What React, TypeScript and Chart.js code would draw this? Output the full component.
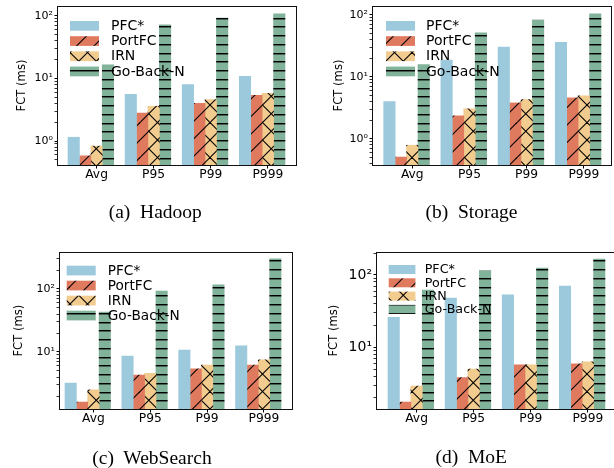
import React, { useEffect, useRef } from "react";
import { Chart, registerables } from "chart.js";

Chart.register(...registerables);

// ---------- data ----------
const categories = ["Avg", "P95", "P99", "P999"];
const seriesNames = ["PFC*", "PortFC", "IRN", "Go-Back-N"];

const hadoopPFC = [1.15, 5.6, 8.0, 10.8];
const hadoopPortFC = [0.58, 2.8, 4.0, 5.4];
const hadoopIRN = [0.83, 3.6, 4.6, 5.8];
const hadoopGBN = [16.5, 72, 92, 108];

const storagePFC = [4.0, 18.6, 30, 36];
const storagePortFC = [0.51, 2.35, 3.8, 4.6];
const storageIRN = [0.79, 3.05, 4.3, 4.95];
const storageGBN = [15.8, 51, 82, 103];

const webPFC = [3.2, 8.6, 10.7, 12.5];
const webPortFC = [1.6, 4.3, 5.4, 6.2];
const webIRN = [2.5, 4.6, 6.2, 7.5];
const webGBN = [43, 93, 116, 300];

const moePFC = [26, 48, 53, 70];
const moePortFC = [1.75, 3.8, 5.7, 5.9];
const moeIRN = [2.9, 5.0, 5.7, 6.3];
const moeGBN = [62, 114, 125, 166];

const yMajorValuesAB = [1, 10, 100];
const yMajorLabelsAB = ["10\u2070", "10\u00b9", "10\u00b2"];
const yMajorValuesCD = [10, 100];
const yMajorLabelsCD = ["10\u00b9", "10\u00b2"];

const yTitle = "FCT (ms)";

// ---------- styles ----------
const seriesColors = ["#9ccadc", "#e07a5f", "#f2cb8e", "#81b29a"];
const seriesHatch = ["none", "slash", "cross", "horiz"];

function makePattern(kind: string, color: string): any {
  if (kind === "none") return color;
  const size = 35;
  const c = document.createElement("canvas");
  c.width = size;
  c.height = size;
  const ctx = c.getContext("2d")!;
  ctx.fillStyle = color;
  ctx.fillRect(0, 0, size, size);
  ctx.strokeStyle = "#000";
  ctx.lineWidth = 1.1;
  if (kind === "slash" || kind === "cross") {
    for (let k = -1; k <= 5; k++) {
      const cc = k * 17.5;
      ctx.beginPath();
      ctx.moveTo(-5, cc + 5);
      ctx.lineTo(size + 5, cc - size - 5);
      ctx.stroke();
    }
  }
  if (kind === "cross") {
    for (let k = -3; k <= 3; k++) {
      const cc = k * 17.5;
      ctx.beginPath();
      ctx.moveTo(-5, -5 - cc);
      ctx.lineTo(size + 5, size + 5 - cc);
      ctx.stroke();
    }
  }
  if (kind === "horiz") {
    for (let k = 0; k < 4; k++) {
      const yy = Math.round(k * 8.75);
      ctx.fillStyle = "#000";
      ctx.fillRect(0, yy, size, 1);
      ctx.fillStyle = "rgba(0,0,0,0.45)";
      ctx.fillRect(0, yy + 1, size, 1);
    }
  }
  return ctx.createPattern(c, "repeat");
}

function minorTicks(min: number, max: number): number[] {
  const out: number[] = [];
  for (let e = -2; e <= 3; e++) {
    for (let m = 1; m <= 9; m++) {
      const v = m * Math.pow(10, e);
      if (v >= min && v <= max) out.push(Number(v.toPrecision(6)));
    }
  }
  return out;
}

const panels = [
  {
    key: "a",
    x: 0, y: 0, w: 307, h: 234,
    pad: { left: 0, top: 6, right: 11, bottom: 39 },
    yw: 58, xh: 30,
    xMin: -0.275, xMax: 3.893,
    yMin: 0.414, yMax: 144,
    series: [hadoopPFC, hadoopPortFC, hadoopIRN, hadoopGBN],
    majors: yMajorValuesAB, majorLabels: yMajorLabelsAB,
    yFont: 11, titlePad: 15,
    legend: { dx: 12, dy: 15, step: 15.2, font: 14, hw: 29, hh: 9.7, textDx: 41 },
    caption: "(a)  Hadoop", cx: 155.3, baseline: 218.3,
  },
  {
    key: "b",
    x: 307, y: 0, w: 307, h: 234,
    pad: { left: 0, top: 6, right: 3, bottom: 39 },
    yw: 66, xh: 30,
    xMin: -0.287, xMax: 3.875,
    yMin: 0.38, yMax: 138,
    series: [storagePFC, storagePortFC, storageIRN, storageGBN],
    majors: yMajorValuesAB, majorLabels: yMajorLabelsAB,
    yFont: 11, titlePad: 25,
    legend: { dx: 13, dy: 15, step: 15.2, font: 14, hw: 29, hh: 9.7, textDx: 40 },
    caption: "(b)  Storage", cx: 471.5, baseline: 217.8,
  },
  {
    key: "c",
    x: 0, y: 234, w: 307, h: 234,
    pad: { left: 0, top: 18.3, right: 15, bottom: 29 },
    yw: 60, xh: 30,
    xMin: -0.188, xMax: 3.893,
    yMin: 1.245, yMax: 382,
    series: [webPFC, webPortFC, webIRN, webGBN],
    majors: yMajorValuesCD, majorLabels: yMajorLabelsCD,
    yFont: 11, titlePad: 12,
    legend: { dx: 6.7, dy: 13.4, step: 15, font: 13.7, hw: 29, hh: 9.7, textDx: 41 },
    caption: "(c)  WebSearch", cx: 152, baseline: 463.8,
  },
  {
    key: "d",
    x: 307, y: 234, w: 313, h: 234,
    pad: { left: 0, top: 18.3, right: 4, bottom: 29 },
    yw: 70, xh: 30,
    xMin: -0.293, xMax: 3.893,
    yMin: 1.4, yMax: 206,
    series: [moePFC, moePortFC, moeIRN, moeGBN],
    majors: yMajorValuesCD, majorLabels: yMajorLabelsCD,
    yFont: 14, titlePad: 20.5,
    legend: { dx: 11.7, dy: 12.7, step: 13.3, font: 12.7, hw: 26.7, hh: 9, textDx: 36 },
    caption: "(d)  MoE", cx: 471.2, baseline: 462.8,
  },
];

const frameLegendPlugin = {
  id: "frameLegend",
  afterDraw(chart: any, _args: any, opts: any) {
    const { ctx, chartArea: a } = chart;
    ctx.save();
    ctx.strokeStyle = "#111";
    ctx.lineWidth = 1;
    const l = Math.round(a.left) - 0.5;
    const t = Math.round(a.top) + 0.5;
    const r = Math.round(a.right) + 0.5;
    const b = Math.round(a.bottom) + 0.5;
    ctx.strokeRect(l, t, r - l, b - t);
    chart.data.datasets.forEach((ds: any, i: number) => {
      const x = a.left + opts.dx;
      const y = a.top + opts.dy + i * opts.step;
      ctx.fillStyle = ds.backgroundColor;
      ctx.fillRect(x, y, opts.hw, opts.hh);
      ctx.fillStyle = "#000";
      ctx.font = `${opts.font}px "DejaVu Sans"`;
      ctx.textBaseline = "middle";
      ctx.textAlign = "left";
      ctx.fillText(ds.label, x + opts.textDx, y + opts.hh / 2 + 0.5);
    });
    ctx.restore();
  },
};

function Panel({ cfg }: { cfg: any }) {
  const ref = useRef<HTMLCanvasElement>(null);
  useEffect(() => {
    const datasets = cfg.series.map((vals: number[], k: number) => ({
      label: seriesNames[k],
      data: vals.map((v, i) => ({ x: i + k * 0.2, y: v })),
      backgroundColor: makePattern(seriesHatch[k], seriesColors[k]),
      borderWidth: 0,
      grouped: false,
      categoryPercentage: 1,
      barPercentage: 1,
    }));
    const allY = [...cfg.majors, ...minorTicks(cfg.yMin, cfg.yMax)]
      .filter((v, i, arr) => arr.indexOf(v) === i)
      .sort((p, q) => p - q);
    const chart = new Chart(ref.current!, {
      type: "bar",
      data: { datasets },
      plugins: [frameLegendPlugin],
      options: {
        animation: false,
        responsive: false,
        devicePixelRatio: 1,
        events: [],
        layout: { padding: cfg.pad, autoPadding: false },
        plugins: {
          legend: { display: false },
          tooltip: { enabled: false },
          frameLegend: cfg.legend,
        } as any,
        scales: {
          x: {
            type: "linear",
            offset: false,
            min: cfg.xMin,
            max: cfg.xMax,
            grid: { display: true, offset: false, drawOnChartArea: false, drawTicks: true, tickLength: 3.5, tickColor: "#000", tickWidth: 1 },
            border: { display: false },
            afterBuildTicks: (s: any) => {
              s.ticks = categories.map((_, i) => ({ value: i + 0.4 }));
            },
            afterFit: (s: any) => {
              s.height = cfg.xh;
              s.paddingLeft = 0; s.paddingRight = 0; s.paddingTop = 0; s.paddingBottom = 0;
            },
            ticks: {
              autoSkip: false,
              maxRotation: 0,
              minRotation: 0,
              padding: 0,
              color: "#000",
              font: { family: "DejaVu Sans", size: 12.3, lineHeight: 1 },
              callback: (_v: any, i: number) => categories[i],
            },
          },
          y: {
            type: "logarithmic",
            min: cfg.yMin,
            max: cfg.yMax,
            grid: { display: true, drawOnChartArea: false, drawTicks: true, tickLength: 3.5, tickColor: "#000",
              tickWidth: (c: any) => (cfg.majors.indexOf(c.tick && c.tick.value) >= 0 ? 1 : 0.8) },
            border: { display: false },
            afterBuildTicks: (s: any) => {
              s.ticks = allY.map((v) => ({ value: v, major: false }));
            },
            afterFit: (s: any) => {
              s.width = cfg.yw;
              s.paddingLeft = 0; s.paddingRight = 0; s.paddingTop = 0; s.paddingBottom = 0;
            },
            ticks: {
              autoSkip: false,
              padding: 1.5,
              color: "#000",
              font: { family: "DejaVu Sans", size: cfg.yFont },
              callback: (v: any) => {
                const idx = cfg.majors.indexOf(Number(v));
                return idx >= 0 ? cfg.majorLabels[idx] : "";
              },
            },
            title: {
              display: true,
              text: yTitle,
              color: "#000",
              font: { family: "DejaVu Sans", size: 11.6, lineHeight: 1.2 },
              padding: { top: cfg.titlePad, bottom: 0 },
            },
          },
        },
      } as any,
    });
    return () => chart.destroy();
  }, []);
  return (
    <canvas
      ref={ref}
      width={cfg.w}
      height={cfg.h}
      style={{ position: "absolute", left: cfg.x, top: cfg.y, width: cfg.w, height: cfg.h }}
    />
  );
}

export default function App() {
  return (
    <div
      style={{
        position: "fixed",
        left: 0,
        top: 0,
        width: 614,
        height: 468,
        overflow: "hidden",
        background: "#fff",
      }}
    >
      {panels.map((p) => (
        <Panel key={p.key} cfg={p} />
      ))}
      {panels.map((p) => (
        <div
          key={"cap" + p.key}
          style={{
            position: "absolute",
            left: p.cx - 150,
            width: 300,
            top: p.baseline - 16.3,
            textAlign: "center",
            fontFamily: '"Liberation Serif", serif',
            fontSize: 19.5,
            lineHeight: 1,
            whiteSpace: "pre",
            color: "#000",
          }}
        >
          {p.caption}
        </div>
      ))}
    </div>
  );
}
